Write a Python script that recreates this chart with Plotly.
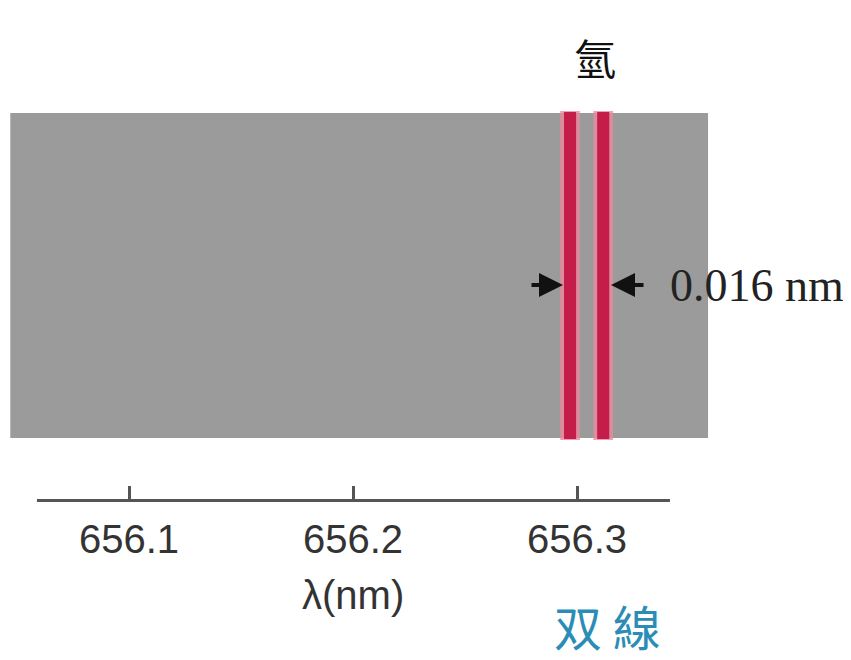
import plotly.graph_objects as go

# ---- data ----
tick_values = [656.1, 656.2, 656.3]
tick_labels = ["656.1", "656.2", "656.3"]
spectrum_range = [656.047, 656.3585]          # extent of the grey spectrum band (nm)
line_centers = [656.2969, 656.3117]           # the two red emission lines (nm)
line_width_nm = 0.0054
glow_width_nm = 0.0088
axis_extent = [656.0589, 656.3415]
x_range = [656.04598, 656.42589]
element_label = "氫"
separation_label = "0.016 nm"
axis_title = "λ(nm)"
doublet_label = "双 線"

fig = go.Figure()

# invisible trace to establish axes
fig.add_trace(go.Scatter(x=x_range, y=[0, 0], mode="lines",
                         line=dict(color="rgba(0,0,0,0)"), hoverinfo="skip",
                         showlegend=False))

shapes = []
# grey band
shapes.append(dict(type="rect", xref="x", yref="y",
                   x0=spectrum_range[0], x1=spectrum_range[1], y0=64, y1=389,
                   fillcolor="#9b9b9b", line=dict(width=0), layer="below"))
# red lines with glow
for c in line_centers:
    shapes.append(dict(type="rect", xref="x", yref="y",
                       x0=c - glow_width_nm / 2, x1=c + glow_width_nm / 2, y0=62, y1=391,
                       fillcolor="#e98a9e", line=dict(width=0), layer="below", opacity=0.8))
    shapes.append(dict(type="rect", xref="x", yref="y",
                       x0=c - line_width_nm / 2, x1=c + line_width_nm / 2, y0=63, y1=390,
                       fillcolor="#c41d4a", line=dict(width=0), layer="below"))
# axis line
shapes.append(dict(type="line", xref="x", yref="y",
                   x0=axis_extent[0], x1=axis_extent[1], y0=1, y1=1,
                   line=dict(color="#555555", width=4)))
fig.update_layout(shapes=shapes)

annotations = [
    dict(x=656.308, y=446, xref="x", yref="y", text=element_label, showarrow=False,
         font=dict(family="Noto Sans CJK TC", size=42, color="#111111")),
    dict(x=656.3406, y=217, xref="x", yref="y", text=separation_label, showarrow=False,
         xanchor="left", font=dict(family="Liberation Serif", size=46, color="#222222")),
    dict(x=656.2, y=-0.1883, xref="x", yref="paper", yanchor="middle", text=axis_title,
         showarrow=False, font=dict(family="Liberation Sans", size=40, color="#333333")),
    dict(x=656.3134, y=-0.249, xref="x", yref="paper", yanchor="middle", text=doublet_label,
         showarrow=False, font=dict(family="Noto Sans CJK TC", size=48, color="#2b8db5")),
    # arrows
    dict(x=656.29375, y=217, ax=656.27902, ay=217, xref="x", yref="y", axref="x", ayref="y",
         text="", showarrow=True, arrowhead=2, arrowsize=1.2, arrowwidth=4, arrowcolor="#111111"),
    dict(x=656.31518, y=217, ax=656.33036, ay=217, xref="x", yref="y", axref="x", ayref="y",
         text="", showarrow=True, arrowhead=2, arrowsize=1.2, arrowwidth=4, arrowcolor="#111111"),
]
fig.update_layout(annotations=annotations)

fig.update_layout(
    width=851, height=660,
    margin=dict(l=0, r=0, t=0, b=166),
    paper_bgcolor="white", plot_bgcolor="white",
    xaxis=dict(range=x_range, tickvals=tick_values, ticktext=tick_labels,
               ticks="inside", ticklen=16, tickwidth=3, tickcolor="#555555",
               ticklabelstandoff=10,
               showline=False, showgrid=False, zeroline=False,
               tickfont=dict(family="Liberation Sans", size=40, color="#333333"),
               fixedrange=True),
    yaxis=dict(range=[0, 494], visible=False, fixedrange=True),
    showlegend=False,
)

fig.write_html("out.html")
